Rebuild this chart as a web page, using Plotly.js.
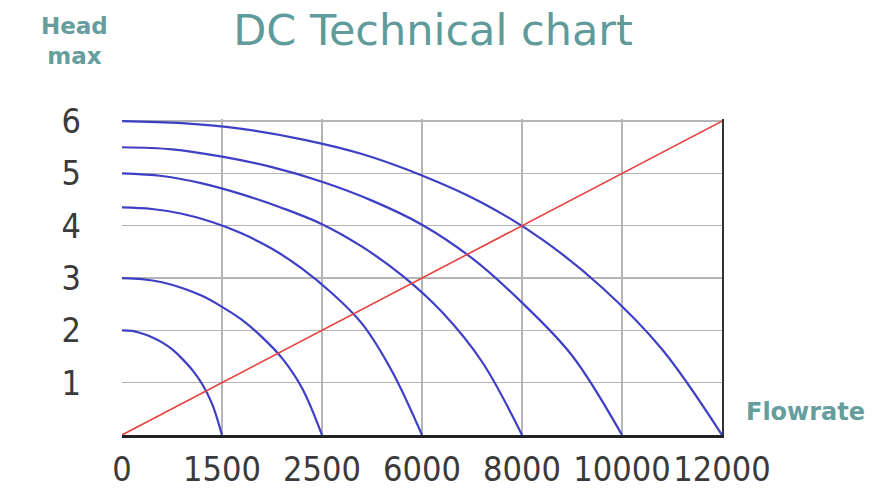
<!DOCTYPE html>
<html>
<head>
<meta charset="utf-8">
<script src="https://cdn.plot.ly/plotly-3.0.1.min.js"></script>
<style>
html,body{margin:0;padding:0;background:#fff;}
#chart{width:881px;height:494px;}
</style>
</head>
<body>
<div id="chart"></div>
<script>
// X positions are category slots (0..6), labelled with flow rates
const flowLabels = ["0", "1500", "2500", "6000", "8000", "10000", "12000"];
const flowSlots = [0, 1, 2, 3, 4, 5, 6];
const headTicks = [1, 2, 3, 4, 5, 6];

// Pump curves (x = slot, y = head)
const curve1X = [0, 0.1, 0.2, 0.3, 0.4, 0.5, 0.6, 0.7, 0.8, 0.9, 1.0];
const curve1Y = [2.0, 1.99, 1.94, 1.87, 1.77, 1.64, 1.46, 1.25, 0.98, 0.6, 0.0];

const curve2X = [0, 0.2, 0.4, 0.6, 0.8, 1.0, 1.2, 1.4, 1.6, 1.8, 2.0];
const curve2Y = [3.0, 2.98, 2.92, 2.81, 2.66, 2.45, 2.2, 1.87, 1.47, 0.9, 0.0];

const curve3X = [0, 0.3, 0.6, 0.9, 1.2, 1.5, 1.8, 2.1, 2.4, 2.7, 3.0];
const curve3Y = [4.35, 4.32, 4.23, 4.07, 3.85, 3.56, 3.18, 2.71, 2.13, 1.22, 0.0];

const curve4X = [0, 0.4, 0.8, 1.2, 1.6, 2.0, 2.4, 2.8, 3.2, 3.6, 4.0];
const curve4Y = [5.0, 4.95, 4.81, 4.6, 4.34, 4.03, 3.6, 3.05, 2.35, 1.4, 0.0];

const curve5X = [0, 0.5, 1.0, 1.5, 2.0, 2.5, 3.0, 3.5, 4.0, 4.5, 5.0];
const curve5Y = [5.5, 5.46, 5.32, 5.12, 4.84, 4.48, 4.02, 3.38, 2.53, 1.52, 0.0];

const curve6X = [0, 0.6, 1.2, 1.8, 2.4, 3.0, 3.6, 4.2, 4.8, 5.4, 6.0];
const curve6Y = [6.0, 5.96, 5.85, 5.65, 5.37, 4.96, 4.44, 3.74, 2.82, 1.64, 0.0];

// System (resistance) line
const lineX = [0, 6];
const lineY = [0, 6];

const curvesX = [curve1X, curve2X, curve3X, curve4X, curve5X, curve6X];
const curvesY = [curve1Y, curve2Y, curve3Y, curve4Y, curve5Y, curve6Y];

const blue = "#3f3fc6";
const traces = curvesX.map((xs, i) => ({
  x: xs, y: curvesY[i], type: "scatter", mode: "lines",
  line: {color: blue, width: 2.2, shape: "spline", smoothing: 1.0},
  hoverinfo: "skip", showlegend: false
}));
traces.push({
  x: lineX, y: lineY, type: "scatter", mode: "lines",
  line: {color: "#e5413c", width: 1.6},
  hoverinfo: "skip", showlegend: false
});
// invisible trace to activate right-hand border axis
traces.push({x: [0], y: [0], yaxis: "y2", mode: "markers", marker: {opacity: 0}, hoverinfo: "skip", showlegend: false});

const tickFont = {family: "DejaVu Sans Condensed, DejaVu Sans, sans-serif", size: 34, color: "#3a3a3a"};
const teal = "#659e9c";

const layout = {
  width: 881, height: 494,
  margin: {l: 122, r: 159, t: 119, b: 59, pad: 0},
  paper_bgcolor: "#ffffff", plot_bgcolor: "#ffffff",
  title: {
    text: "DC Technical chart",
    font: {family: "DejaVu Sans, sans-serif", size: 43, color: "#5e9b9a"},
    x: 0.4915, xref: "container", xanchor: "center",
    y: 0.94, yref: "container", yanchor: "middle"
  },
  xaxis: {
    range: [0, 6], tickmode: "array", tickvals: flowSlots, ticktext: flowLabels,
    showgrid: true, gridcolor: "#b5b5b5", gridwidth: 1.5,
    zeroline: false, showline: true, linecolor: "#222", linewidth: 2.5,
    ticks: "", tickfont: tickFont, ticklabelstandoff: 3, fixedrange: true
  },
  yaxis: {
    range: [0, 6.04], tickmode: "array", tickvals: headTicks, ticktext: headTicks.map(String),
    showgrid: true, gridcolor: "#b5b5b5", gridwidth: 1.5,
    zeroline: false, showline: false,
    ticks: "", tickfont: tickFont, ticklabelstandoff: 40, fixedrange: true
  },
  yaxis2: {
    overlaying: "y", side: "right", range: [0, 6.04],
    showgrid: false, zeroline: false, showticklabels: false, ticks: "",
    showline: true, linecolor: "#333", linewidth: 2, fixedrange: true
  },
  annotations: [
    {text: "<b>Head</b><br><b>max</b>", xref: "paper", yref: "paper",
     x: -0.08, y: 1.247, xanchor: "center", yanchor: "middle", showarrow: false,
     font: {family: "DejaVu Sans, sans-serif", size: 23, color: teal}, align: "center"},
    {text: "<b>Flowrate</b>", xref: "paper", yref: "paper",
     x: 1.14, y: 0.073, xanchor: "center", yanchor: "middle", showarrow: false,
     font: {family: "DejaVu Sans, sans-serif", size: 24, color: teal}}
  ],
  showlegend: false
};

Plotly.newPlot("chart", traces, layout, {displayModeBar: false, staticPlot: true});
</script>
</body>
</html>
